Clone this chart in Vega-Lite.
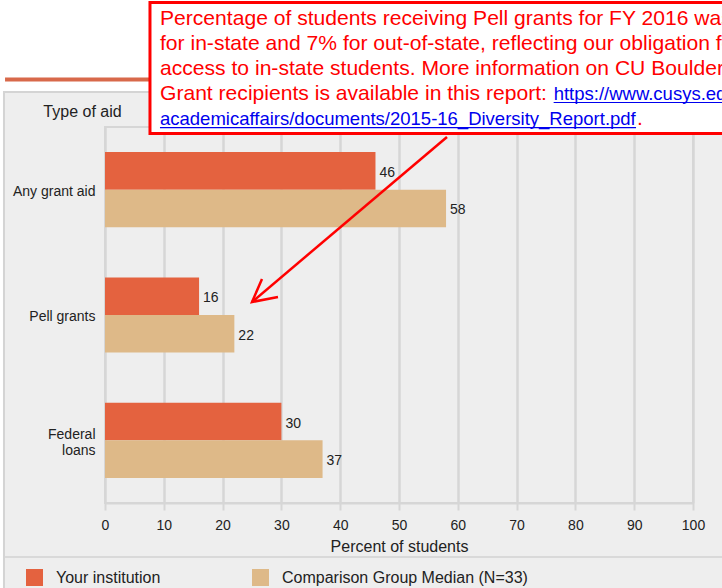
{
  "$schema": "https://vega.github.io/schema/vega-lite/v6.json",
  "width": 588,
  "height": 376,
  "autosize": {"type": "none"},
  "padding": {"left": 105, "top": 127, "right": 29, "bottom": 85},
  "background": "#eeeeee",
  "config": {
    "font": "Liberation Sans",
    "view": {"stroke": "#d6d6d6", "strokeWidth": 2}
  },
  "datasets": {
    "bars": [
      {"aid": "Any grant aid", "group": "Your institution", "value": 46},
      {"aid": "Any grant aid", "group": "Comparison Group Median (N=33)", "value": 58},
      {"aid": "Pell grants", "group": "Your institution", "value": 16},
      {"aid": "Pell grants", "group": "Comparison Group Median (N=33)", "value": 22},
      {"aid": "Federal loans", "group": "Your institution", "value": 30},
      {"aid": "Federal loans", "group": "Comparison Group Median (N=33)", "value": 37}
    ],
    "whites": [
      {"x1": -25, "x2": -17.35, "y1": -26, "y2": 140},
      {"x1": -25, "x2": 112, "y1": 109.57, "y2": 140}
    ],
    "panel": [{"x1": -17.18, "x2": 112, "y1": -26, "y2": 109.31}],
    "orangeLine": [{"x1": -17.0, "x2": 112, "y": 112.63}],
    "separator": [{"x1": -17.0, "x2": 112, "y": -14.36}],
    "box": [{"x1": 7.65, "x2": 112, "y1": 98.27, "y2": 133.11}],
    "redText": [
      {"text": "Percentage of students receiving Pell grants for FY 2016 was", "x": 9.35, "y": 127.12},
      {"text": "for in-state and 7% for out-of-state, reflecting our obligation for", "x": 9.35, "y": 120.47},
      {"text": "access to in-state students. More information on CU Boulder", "x": 9.35, "y": 113.83},
      {"text": "Grant recipients is available in this report:", "x": 9.35, "y": 107.18},
      {"text": ".", "x": 90.48, "y": 100.66}
    ],
    "linkText": [
      {"text": "https://www.cusys.edu/", "x": 76.3, "y": 107.18},
      {"text": "academicaffairs/documents/2015-16_Diversity_Report.pdf", "x": 9.35, "y": 100.66}
    ],
    "underline": [
      {"x1": 76.3, "x2": 112, "y": 106.51},
      {"x1": 9.35, "x2": 90.31, "y": 99.86}
    ],
    "arrow": [
      {"seg": "shaft", "ord": 1, "x": 58.16, "y": 97.34},
      {"seg": "shaft", "ord": 2, "x": 25.0, "y": 53.46},
      {"seg": "head", "ord": 1, "x": 26.7, "y": 59.57},
      {"seg": "head", "ord": 2, "x": 25.0, "y": 53.46},
      {"seg": "head", "ord": 3, "x": 29.42, "y": 54.79}
    ]
  },
  "resolve": {"scale": {"x": "independent", "y": "independent"}},
  "layer": [
    {
      "data": {"name": "whites"},
      "mark": {"type": "rect", "fill": "#ffffff", "strokeWidth": 0},
      "encoding": {
        "x": {"field": "x1", "type": "quantitative", "scale": {"domain": [0, 100], "nice": false}, "axis": null},
        "x2": {"field": "x2"},
        "y": {"field": "y1", "type": "quantitative", "scale": {"domain": [0, 100], "nice": false}, "axis": null},
        "y2": {"field": "y2"}
      }
    },
    {
      "data": {"name": "panel"},
      "mark": {"type": "rect", "fillOpacity": 0, "stroke": "#d4d4d4", "strokeWidth": 2},
      "encoding": {
        "x": {
          "field": "x1", "type": "quantitative", "scale": {"domain": [0, 100], "nice": false},
          "axis": {
            "orient": "bottom", "title": null, "labels": false, "ticks": false, "domain": false,
            "grid": true, "gridColor": "#d6d6d6", "gridWidth": 2,
            "values": [0, 10, 20, 30, 40, 50, 60, 70, 80, 90, 100]
          }
        },
        "x2": {"field": "x2"},
        "y": {"field": "y1", "type": "quantitative", "scale": {"domain": [0, 100], "nice": false}, "axis": null},
        "y2": {"field": "y2"}
      }
    },
    {
      "data": {"name": "orangeLine"},
      "mark": {"type": "rule", "stroke": "#d8694a", "strokeWidth": 4},
      "encoding": {
        "x": {"field": "x1", "type": "quantitative", "scale": {"domain": [0, 100], "nice": false}, "axis": null},
        "x2": {"field": "x2"},
        "y": {"field": "y", "type": "quantitative", "scale": {"domain": [0, 100], "nice": false}, "axis": null}
      }
    },
    {
      "data": {"name": "separator"},
      "mark": {"type": "rule", "stroke": "#d9d9d9", "strokeWidth": 2},
      "encoding": {
        "x": {"field": "x1", "type": "quantitative", "scale": {"domain": [0, 100], "nice": false}, "axis": null},
        "x2": {"field": "x2"},
        "y": {"field": "y", "type": "quantitative", "scale": {"domain": [0, 100], "nice": false}, "axis": null}
      }
    },
    {
      "data": {"name": "bars"},
      "encoding": {
        "y": {
          "field": "aid", "type": "nominal",
          "sort": ["Any grant aid", "Pell grants", "Federal loans"],
          "scale": {"paddingInner": 0.4, "paddingOuter": 0.2},
          "axis": {
            "title": "Type of aid", "titleAngle": 0, "titleX": -23, "titleY": -16,
            "titleAlign": "center", "titleBaseline": "middle", "titleFontSize": 16,
            "titleFontWeight": "normal", "titleColor": "#222222",
            "ticks": false, "domain": false, "grid": false,
            "labelFontSize": 14, "labelColor": "#222222", "labelPadding": 10, "labelLineHeight": 16,
            "labelOffset": {"condition": {"test": "datum.value == 'Federal loans'", "value": -5}, "value": 2},
            "labelExpr": "datum.value == 'Federal loans' ? ['Federal', 'loans'] : datum.value"
          }
        },
        "yOffset": {
          "field": "group",
          "sort": ["Your institution", "Comparison Group Median (N=33)"],
          "scale": {"paddingInner": 0, "paddingOuter": 0}
        },
        "x": {
          "field": "value", "type": "quantitative",
          "scale": {"domain": [0, 100], "nice": false},
          "axis": {
            "orient": "bottom",
            "title": "Percent of students", "titleFontSize": 16, "titleFontWeight": "normal",
            "titleColor": "#222222", "titlePadding": 6,
            "values": [0, 10, 20, 30, 40, 50, 60, 70, 80, 90, 100],
            "grid": true, "gridColor": "#d6d6d6", "gridWidth": 2,
            "domainColor": "#d6d6d6", "domainWidth": 2,
            "tickColor": "#d6d6d6", "tickWidth": 2, "tickSize": 7,
            "labelFontSize": 14, "labelColor": "#222222", "labelPadding": 8, "labelFlush": false
          }
        }
      },
      "layer": [
        {
          "mark": {"type": "bar"},
          "encoding": {
            "color": {
              "field": "group", "type": "nominal",
              "scale": {"domain": ["Your institution", "Comparison Group Median (N=33)"], "range": ["#e4623f", "#deb988"]},
              "legend": {
                "title": null, "orient": "none", "legendX": -79, "legendY": 442,
                "direction": "horizontal", "symbolType": "square", "symbolSize": 289,
                "symbolStrokeWidth": 0, "symbolOpacity": 1, "labelFontSize": 16, "labelColor": "#222222",
                "labelOffset": 13, "columnPadding": 91, "padding": 0, "labelLimit": 400
              }
            }
          }
        },
        {
          "mark": {"type": "text", "align": "left", "baseline": "middle", "dx": 4, "dy": 2, "fontSize": 14, "color": "#222222"},
          "encoding": {"text": {"field": "value", "type": "quantitative"}}
        }
      ]
    },
    {
      "data": {"name": "box"},
      "mark": {"type": "rect", "fill": "#ffffff", "stroke": "#ff0000", "strokeWidth": 3},
      "encoding": {
        "x": {"field": "x1", "type": "quantitative", "scale": {"domain": [0, 100], "nice": false}, "axis": null},
        "x2": {"field": "x2"},
        "y": {"field": "y1", "type": "quantitative", "scale": {"domain": [0, 100], "nice": false}, "axis": null},
        "y2": {"field": "y2"}
      }
    },
    {
      "data": {"name": "redText"},
      "mark": {"type": "text", "align": "left", "baseline": "alphabetic", "fontSize": 21.1, "color": "#ff0000"},
      "encoding": {
        "x": {"field": "x", "type": "quantitative", "scale": {"domain": [0, 100], "nice": false}, "axis": null},
        "y": {"field": "y", "type": "quantitative", "scale": {"domain": [0, 100], "nice": false}, "axis": null},
        "text": {"field": "text"}
      }
    },
    {
      "data": {"name": "linkText"},
      "mark": {"type": "text", "align": "left", "baseline": "alphabetic", "fontSize": 18.5, "color": "#0000ee"},
      "encoding": {
        "x": {"field": "x", "type": "quantitative", "scale": {"domain": [0, 100], "nice": false}, "axis": null},
        "y": {"field": "y", "type": "quantitative", "scale": {"domain": [0, 100], "nice": false}, "axis": null},
        "text": {"field": "text"}
      }
    },
    {
      "data": {"name": "underline"},
      "mark": {"type": "rule", "stroke": "#0000ee", "strokeWidth": 1.2},
      "encoding": {
        "x": {"field": "x1", "type": "quantitative", "scale": {"domain": [0, 100], "nice": false}, "axis": null},
        "x2": {"field": "x2"},
        "y": {"field": "y", "type": "quantitative", "scale": {"domain": [0, 100], "nice": false}, "axis": null}
      }
    },
    {
      "data": {"name": "arrow"},
      "mark": {"type": "line", "stroke": "#ff0000", "strokeWidth": 2.5},
      "encoding": {
        "x": {"field": "x", "type": "quantitative", "scale": {"domain": [0, 100], "nice": false}, "axis": null},
        "y": {"field": "y", "type": "quantitative", "scale": {"domain": [0, 100], "nice": false}, "axis": null},
        "detail": {"field": "seg"},
        "order": {"field": "ord"}
      }
    }
  ]
}
